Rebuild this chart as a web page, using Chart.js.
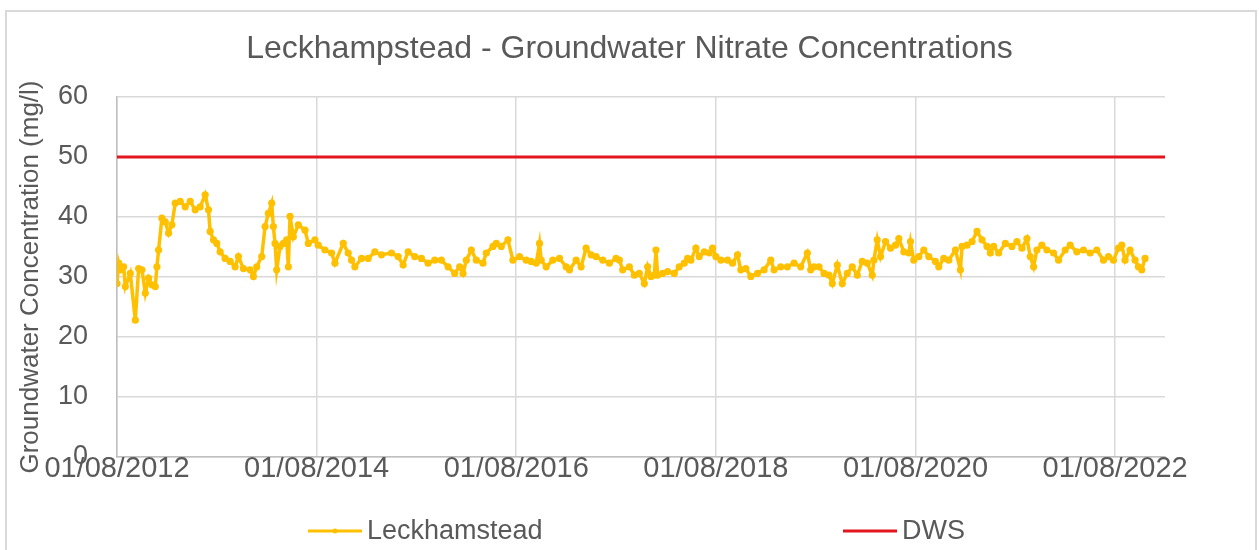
<!DOCTYPE html>
<html>
<head>
<meta charset="utf-8">
<script src="https://cdn.jsdelivr.net/npm/chart.js@4"></script>
<style>
  html, body { margin: 0; padding: 0; background: #fff; }
  #frame { position: absolute; left: 5px; top: 10px; width: 1252px; height: 560px; border: 2px solid #d9d9d9; box-sizing: border-box; }
  #wrap { position: absolute; left: 0; top: 0; width: 1259px; height: 550px; }
</style>
</head>
<body>
<div id="frame"></div>
<div id="wrap"><canvas id="chart" width="1259" height="550"></canvas></div>
<script>
// months counted from 01/08/2012
const sampleMonths = [
  0, 0.2, 0.4, 0.8, 1.0, 1.6, 2.2, 2.6, 3.0, 3.4, 3.8, 4.2, 4.6, 4.8, 5.0, 5.4, 5.8, 6.2, 6.6, 7.0,
  7.6, 8.2, 8.8, 9.4, 10.0, 10.6, 11.0, 11.2, 11.6, 12.0, 12.4, 13.0, 13.6, 14.2, 14.6, 15.2, 16.0, 16.4, 16.8, 17.4,
  17.8, 18.2, 18.6, 18.8, 19.0, 19.2, 19.6, 20.0, 20.4,
  20.6, 20.8, 21.2, 21.8, 22.6, 23.0, 23.8, 24.2, 25.0, 25.8, 26.2, 27.2, 27.8, 28.2, 28.6, 29.4, 30.2, 31.0, 31.8, 33.0,
  33.8, 34.4, 35.0, 35.8, 36.6, 37.4, 38.2, 39.0, 39.8, 40.6, 41.2,
  41.6, 42.0, 42.6, 43.2, 44.0, 44.4, 45.2, 45.6, 46.2, 47.0, 47.6, 48.4, 49.2, 49.8, 50.4, 50.8, 51.0, 51.6, 52.4, 53.2,
  54.0, 54.4, 55.2, 55.8, 56.4, 57.0, 57.6, 58.4, 59.2, 60.0, 60.4, 60.8, 61.6, 62.2,
  62.8, 63.4, 63.8, 64.2, 64.6, 64.8, 65.0, 65.6, 66.2, 67.0, 67.6, 68.2, 68.6, 69.0, 69.6, 70.0, 70.6, 71.2, 71.6, 72.0,
  72.6, 73.4, 74.0, 74.6, 75.0, 75.6, 76.2, 77.0, 77.8, 78.6, 79.0, 79.8, 80.6, 81.4, 82.2, 83.0, 83.4,
  83.8, 84.4, 85.0, 85.6, 86.0, 86.6, 87.2, 87.8, 88.4, 89.0, 89.6, 90.2, 90.8, 91.0, 91.4, 91.8, 92.4, 93.0, 93.6, 94.0,
  94.6, 95.2, 95.4, 95.8, 96.4, 97.0, 97.6, 98.4, 98.8, 99.4, 100.0, 100.8, 101.4, 101.6, 102.2, 102.8, 103.4, 104.0, 104.6,
  105.0, 105.4, 106.0, 106.8, 107.6, 108.2, 108.8, 109.4, 109.8, 110.2, 110.6, 111.2, 111.8, 112.6, 113.2, 114.0, 114.6, 115.4, 116.2, 117.0,
  117.8, 118.6, 119.2, 119.8, 120.4, 120.8, 121.2, 121.8, 122.4, 122.8, 123.2, 123.6
];

const leckhamstead = [
  28.9, 32.3, 31.2, 31.7, 28.4, 30.6, 22.8, 31.4, 31.2, 27.3, 29.8, 28.7, 28.4, 31.7, 34.5, 39.8, 39.2, 37.3, 38.7, 42.3,
  42.6, 41.7, 42.6, 41.2, 41.7, 43.7, 41.2, 37.6, 36.2, 35.6, 34.2, 33.1, 32.6, 31.7, 33.4, 31.4, 31.2, 30.1, 31.7, 33.4,
  38.4, 40.6, 42.3, 38.4, 35.6, 31.2, 35.1, 35.6, 36.2,
  31.7, 40.1, 36.7, 38.7, 37.8, 35.6, 36.2, 35.3, 34.5, 34.0, 32.3, 35.6, 34.0, 32.8, 31.7, 33.1, 33.1, 34.2, 33.7, 34.0,
  33.4, 32.0, 34.2, 33.4, 33.1, 32.3, 32.8, 32.8, 31.7, 30.6, 31.7,
  30.6, 32.8, 34.5, 32.8, 32.3, 34.0, 35.1, 35.6, 35.1, 36.2, 32.8, 33.4, 32.8, 32.6, 32.3, 35.6, 32.8, 31.7, 32.8, 33.1,
  31.7, 31.2, 32.8, 31.7, 34.8, 33.7, 33.4, 32.8, 32.3, 33.1, 32.8, 31.2, 31.7, 30.3,
  30.6, 28.9, 31.7, 30.1, 30.3, 34.5, 30.3, 30.6, 30.9, 30.6, 31.7, 32.3, 33.1, 32.8, 34.8, 33.4, 34.2, 34.0, 34.8, 33.4,
  32.8, 32.8, 32.3, 33.7, 31.2, 31.4, 30.1, 30.6, 31.2, 32.8, 31.2, 31.7, 31.7, 32.3, 31.7, 34.0, 31.2,
  31.7, 31.7, 30.6, 30.3, 28.9, 32.0, 28.9, 30.6, 31.7, 30.3, 32.6, 32.3, 30.3, 32.8, 36.2, 33.4, 35.9, 34.8, 35.3, 36.4,
  34.2, 34.0, 35.9, 32.8, 33.4, 34.5, 33.4, 32.6, 31.7, 33.1, 32.8, 34.5, 31.2, 35.1, 35.3, 35.9, 37.6, 36.2, 35.1,
  34.0, 35.1, 34.0, 35.6, 35.1, 35.9, 34.8, 36.4, 33.4, 31.7, 34.5, 35.3, 34.5, 34.0, 32.8, 34.5, 35.3, 34.2, 34.5, 34.0,
  34.5, 32.8, 33.4, 32.8, 34.8, 35.3, 32.8, 34.5, 32.8, 31.7, 31.2, 33.1
];

// drinking water standard
const dwsMonths = [0, 126];
const dwsLimit = [50, 50];

const xTickMonths = [0, 24, 48, 72, 96, 120];
const xTickLabels = ['01/08/2012', '01/08/2014', '01/08/2016', '01/08/2018', '01/08/2020', '01/08/2022'];

const FONT = '"Liberation Sans", Arial, sans-serif';
const TEXT = '#595959';
const GOLD = '#FFC000';
const RED = '#E3161E';

// Excel style legend: two items spread far apart under the axis
const spreadLegend = {
  id: 'spreadLegend',
  afterDraw(chart) {
    const ctx = chart.ctx;
    const y = 531;
    const slots = [308, 843];
    ctx.save();
    ctx.font = '27px ' + FONT;
    ctx.textBaseline = 'middle';
    chart.data.datasets.forEach((ds, i) => {
      const x = slots[i];
      ctx.strokeStyle = ds.borderColor;
      ctx.lineWidth = 3;
      ctx.beginPath();
      ctx.moveTo(x, y);
      ctx.lineTo(x + 54, y);
      ctx.stroke();
      if (ds.pointRadius > 0) {
        ctx.fillStyle = ds.borderColor;
        ctx.beginPath();
        ctx.arc(x + 27, y, 2.5, 0, Math.PI * 2);
        ctx.fill();
      }
      ctx.fillStyle = TEXT;
      ctx.fillText(ds.label, x + 59, y + 1);
    });
    ctx.restore();
  }
};

new Chart(document.getElementById('chart'), {
  type: 'line',
  data: {
    datasets: [{
      label: 'Leckhamstead',
      data: sampleMonths.map((m, i) => ({x: m, y: leckhamstead[i]})),
      borderColor: GOLD,
      backgroundColor: GOLD,
      borderWidth: 3.5,
      pointRadius: 3.6,
      pointBorderWidth: 0,
      tension: 0
    }, {
      label: 'DWS',
      data: dwsMonths.map((m, i) => ({x: m, y: dwsLimit[i]})),
      borderColor: RED,
      backgroundColor: RED,
      borderWidth: 3,
      pointRadius: 0
    }]
  },
  options: {
    responsive: false,
    animation: false,
    layout: { padding: { left: 10, right: 10, top: 20, bottom: 0 } },
    plugins: {
      legend: { display: false },
      tooltip: { enabled: false },
      title: {
        display: true,
        text: 'Leckhampstead - Groundwater Nitrate Concentrations',
        color: TEXT,
        font: { family: FONT, size: 32, weight: 'normal' },
        padding: { top: 10, bottom: 28.6 }
      }
    },
    scales: {
      x: {
        type: 'linear',
        min: 0,
        max: 126,
        afterBuildTicks: (s) => { s.ticks = xTickMonths.map(v => ({value: v})); },
        afterFit: (s) => { s.height = 93; },
        grid: { color: '#d9d9d9', lineWidth: 1.5, drawTicks: false },
        border: { color: '#bfbfbf', width: 1.5 },
        ticks: {
          color: TEXT,
          font: { family: FONT, size: 29 },
          padding: -5,
          maxRotation: 0,
          autoSkip: false,
          callback: (v, i) => xTickLabels[i]
        }
      },
      y: {
        min: 0,
        max: 60,
        afterFit: (s) => { s.width = 107; },
        grid: { color: '#d9d9d9', lineWidth: 1.5, drawTicks: false },
        border: { color: '#bfbfbf', width: 1.5 },
        ticks: {
          stepSize: 10,
          color: TEXT,
          font: { family: FONT, size: 27 },
          padding: 29
        },
        title: {
          display: true,
          text: 'Groundwater Concentration (mg/l)',
          color: TEXT,
          font: { family: FONT, size: 26 },
          padding: { top: 5, bottom: 0 }
        }
      },
      // empty right-hand gutter so the plot ends where the reference does
      gutter: {
        type: 'linear',
        position: 'right',
        min: 0,
        max: 1,
        afterFit: (s) => { s.width = 84; },
        grid: { display: false },
        border: { display: false },
        ticks: { display: false }
      }
    }
  },
  plugins: [spreadLegend]
});
</script>
</body>
</html>
